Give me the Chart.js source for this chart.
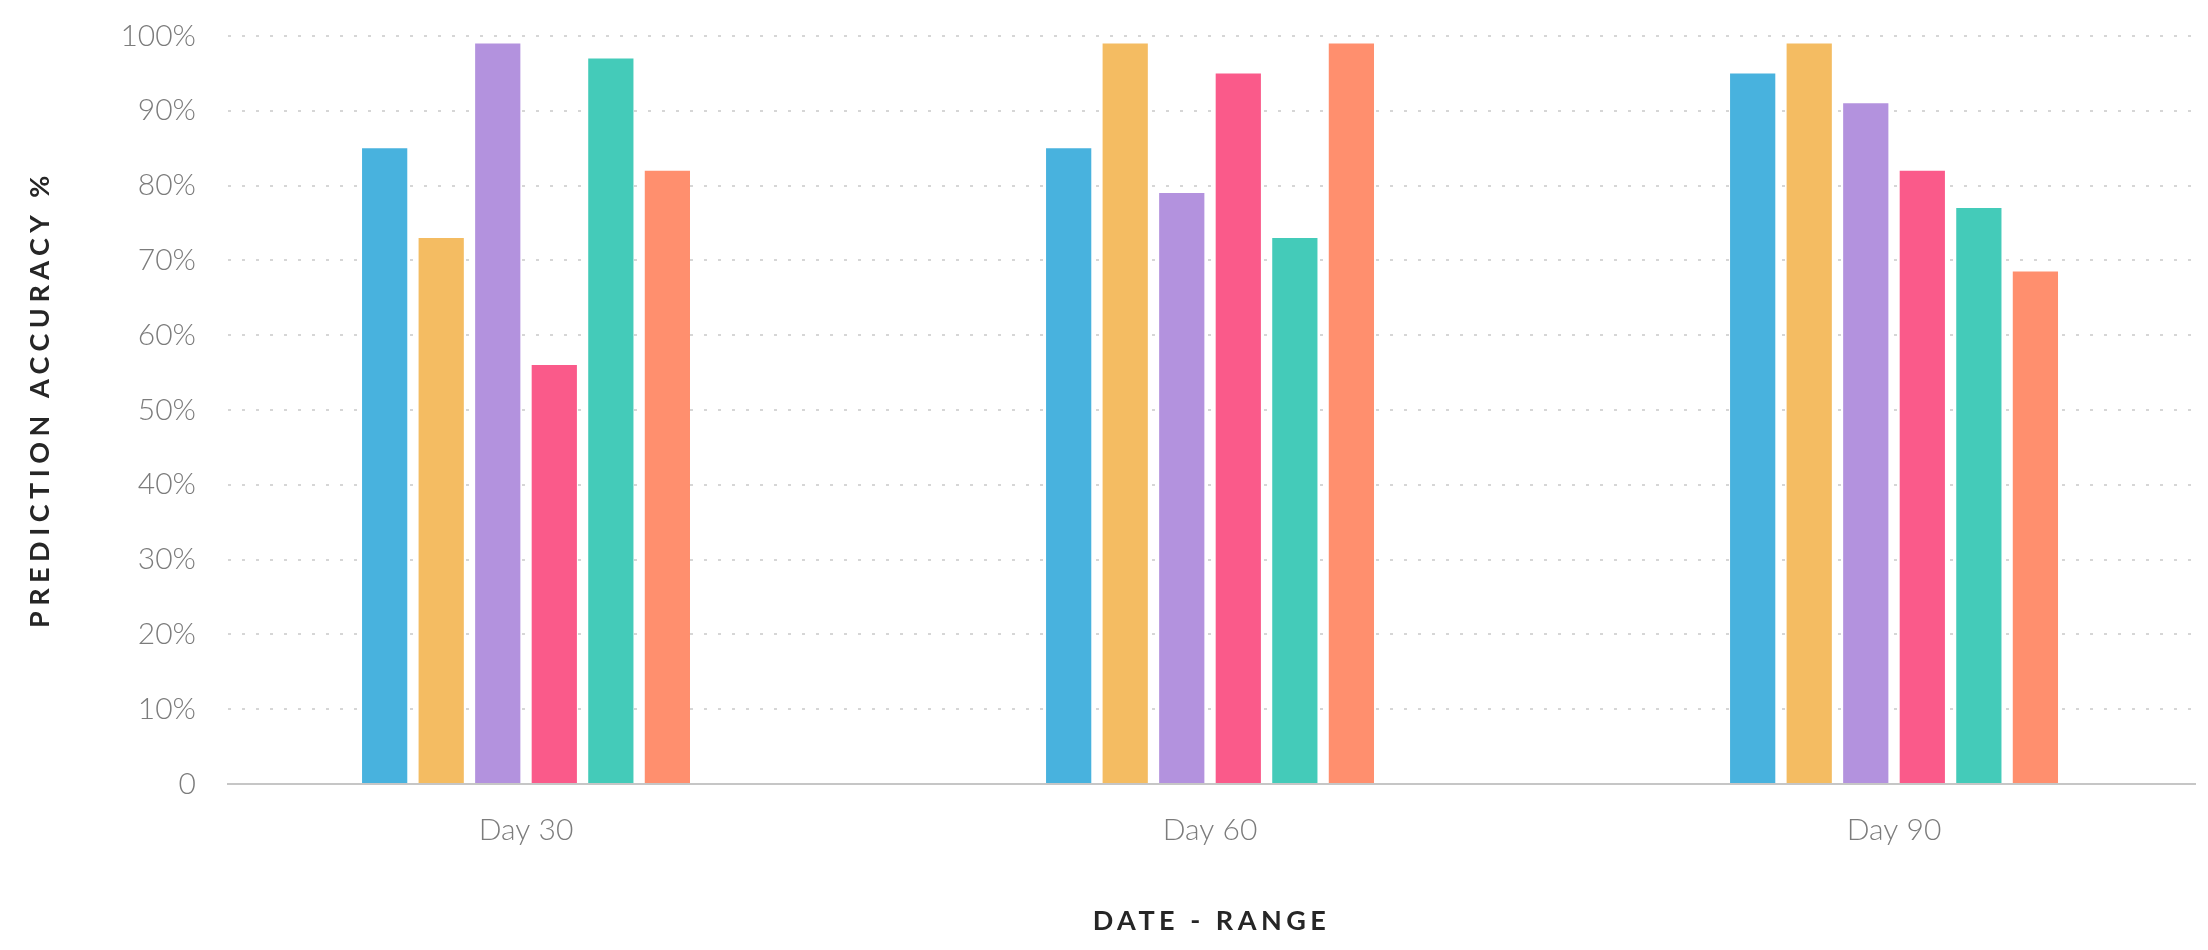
<!DOCTYPE html>
<html>
<head>
<meta charset="utf-8">
<title>Prediction accuracy by date range</title>
<script src="https://cdn.jsdelivr.net/npm/chart.js@4"></script>
<style>
  html, body { margin: 0; padding: 0; background: #ffffff; }
  #wrap { width: 2208px; height: 950px; }
</style>
</head>
<body>
<div id="wrap"><canvas id="chart" width="2208" height="950"></canvas></div>
<script>
// Date ranges shown along the x axis
const categories = ['Day 30', 'Day 60', 'Day 90'];

// Prediction accuracy (%) per series, one value per date range
const seriesA = [85, 85, 95];
const seriesB = [73, 99, 99];
const seriesC = [99, 79, 91];
const seriesD = [56, 95, 82];
const seriesE = [97, 73, 77];
const seriesF = [82, 99, 68.5];

const seriesNames = ['Model A', 'Model B', 'Model C', 'Model D', 'Model E', 'Model F'];
const seriesValues = [seriesA, seriesB, seriesC, seriesD, seriesE, seriesF];
const seriesColors = ['#48b2de', '#f4bc62', '#b392de', '#fa5a8a', '#44cbb9', '#ff8f6e'];

// Y axis tick values (percent)
const yTickValues = [0, 10, 20, 30, 40, 50, 60, 70, 80, 90, 100];

const datasets = seriesValues.map((vals, i) => ({
  label: seriesNames[i],
  data: vals.map((v, j) => ({ x: j, y: v })),
  backgroundColor: seriesColors[i],
  borderWidth: 0,
  categoryPercentage: 0.496,
  barPercentage: 0.8
}));

// Spaced-out capitals for the axis titles
const titleSpacing = {
  id: 'titleSpacing',
  beforeDraw(chart) {
    [['x', '4.5px', 0], ['y', '5.5px', -11]].forEach(([id, spacing, shift]) => {
      const scale = chart.scales[id];
      if (!scale || scale._spacedTitle) return;
      const orig = scale.drawTitle.bind(scale);
      scale.drawTitle = function () {
        const ctx = this.ctx;
        ctx.save();
        ctx.letterSpacing = spacing;
        ctx.translate(0, shift);
        orig();
        ctx.restore();
      };
      scale._spacedTitle = true;
    });
  }
};

const titleFont = { family: 'Lato, "Open Sans", sans-serif', size: 27, weight: 'bold' };
const tickFont = { family: 'Lato, "Open Sans", sans-serif', size: 30, weight: '300' };

new Chart(document.getElementById('chart'), {
  type: 'bar',
  data: { datasets },
  plugins: [titleSpacing],
  options: {
    responsive: false,
    animation: false,
    layout: { padding: { top: 36, right: 13, left: 0, bottom: 0 } },
    plugins: {
      legend: { display: false },
      tooltip: { enabled: false }
    },
    scales: {
      x: {
        type: 'linear',
        min: -0.4357,
        max: 2.44,
        offset: false,
        afterFit(scale) { scale.height = 166; },
        afterBuildTicks(scale) {
          scale.ticks = categories.map((_, i) => ({ value: i }));
        },
        ticks: {
          stepSize: 1,
          includeBounds: false,
          autoSkip: false,
          maxRotation: 0,
          padding: 28,
          color: '#7c7c7c',
          font: tickFont,
          callback: (v) => categories[v] ?? ''
        },
        grid: { display: false, drawTicks: false },
        border: { display: true, color: '#c6c6c6', width: 2 },
        title: {
          display: true,
          text: 'DATE - RANGE',
          color: '#262626',
          font: titleFont,
          padding: { top: 0, bottom: 13 }
        }
      },
      y: {
        min: 0,
        max: 100,
        afterFit(scale) {
          scale.width = 228;
          scale.paddingTop = 0;
          scale.paddingBottom = 0;
        },
        afterBuildTicks(scale) {
          scale.ticks = yTickValues.map(v => ({ value: v }));
        },
        ticks: {
          padding: 32,
          color: '#7c7c7c',
          font: tickFont,
          callback: (v) => v === 0 ? '0' : v + '%'
        },
        grid: {
          drawTicks: false,
          color: '#d6d6d6',
          lineWidth: 2
        },
        border: { display: false, dash: [3, 11] },
        title: {
          display: true,
          text: 'PREDICTION ACCURACY %',
          color: '#262626',
          font: titleFont,
          padding: { top: 24, bottom: 0 }
        }
      }
    }
  }
});
</script>
</body>
</html>
